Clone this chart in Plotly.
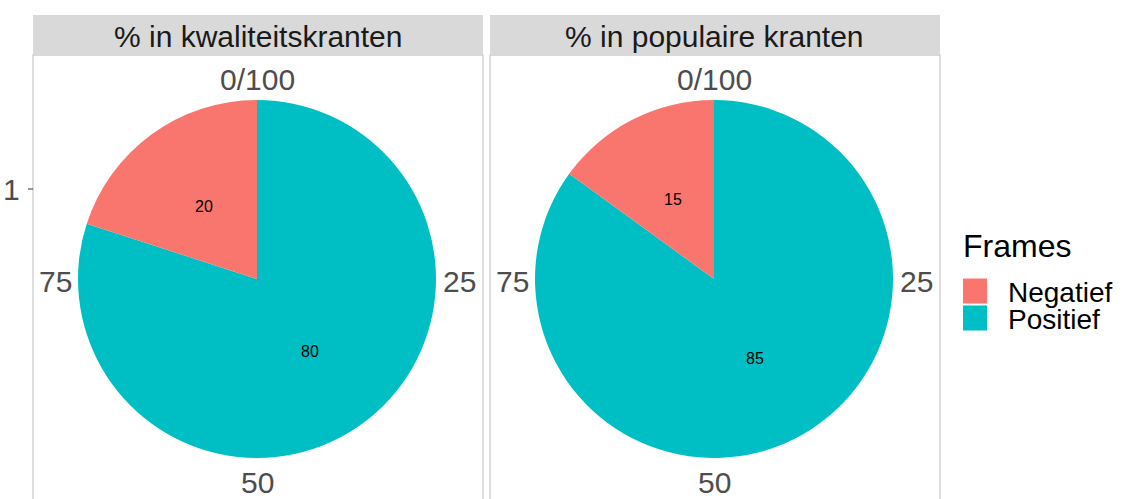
import math
import plotly.graph_objects as go

frames = ["Negatief", "Positief"]
kwaliteit = [20, 80]
populair = [15, 85]
panel_titles = ["% in kwaliteitskranten", "% in populaire kranten"]
theta_ticks = ["0/100", "25", "50", "75"]
colors = ["#F8766D", "#00BFC4"]

W, H = 1123, 499

def px_x(v):
    return v / W

def px_y(v):
    return 1 - v / H

fig = go.Figure()

panels = [(33, 483, 257), (490, 940, 714)]
r = 179
cy = 279

for (x0, x1, cx), vals, title in zip(panels, [kwaliteit, populair], panel_titles):
    # panel border
    fig.add_shape(type="rect", xref="paper", yref="paper", x0=px_x(x0), x1=px_x(x1),
                  y0=px_y(530), y1=px_y(55), line=dict(color="#CCCCCC", width=1.3), layer="below")
    # strip
    fig.add_shape(type="rect", xref="paper", yref="paper", x0=px_x(x0), x1=px_x(x1),
                  y0=px_y(55), y1=px_y(15), fillcolor="#D9D9D9", line=dict(width=0))
    fig.add_annotation(x=px_x((x0 + x1) / 2), y=px_y(37), text=title,
                       font=dict(size=30, color="#1A1A1A"))

    # ggplot stacks the last level first, going clockwise from 12 o'clock
    fig.add_trace(go.Pie(
        labels=frames[::-1], values=vals[::-1], sort=False, direction="clockwise", rotation=0,
        marker=dict(colors=colors[::-1], line=dict(width=0)),
        textinfo="none",
        domain=dict(x=[px_x(cx - r), px_x(cx + r)], y=[px_y(cy + r), px_y(cy - r)]),
        showlegend=False, hoverinfo="label+value",
    ))

    # slice labels, placed like ggplot geom_text in coord_polar (mid radius)
    total = sum(vals)
    start = 0
    for v in vals:
        mid = (start + v / 2) / total * 2 * math.pi
        start += v
        lx = cx - 0.5 * r * math.sin(mid)
        ly = cy - 0.5 * r * math.cos(mid)
        fig.add_annotation(x=px_x(lx), y=px_y(ly), text=str(v), font=dict(size=16, color="black"))

    # theta labels
    pos = [(cx, 79), (cx + 202, 281), (cx, 482), (cx - 202, 281)]
    for t, (tx, ty) in zip(theta_ticks, pos):
        fig.add_annotation(x=px_x(tx), y=px_y(ty), text=t, font=dict(size=30, color="#4D4D4D"))

# radial axis tick "1"
fig.add_annotation(x=px_x(22), y=px_y(190), text="1", xanchor="right",
                   font=dict(size=30, color="#4D4D4D"))
fig.add_shape(type="line", xref="paper", yref="paper", x0=px_x(28), x1=px_x(33),
              y0=px_y(189), y1=px_y(189), line=dict(color="#333333", width=1))

# legend
fig.add_annotation(x=px_x(961), y=px_y(246), text="Frames", xanchor="left",
                   font=dict(size=32, color="black"))
for i, (name, col) in enumerate(zip(frames, colors)):
    yc = 291 + i * 27
    fig.add_shape(type="rect", xref="paper", yref="paper", x0=px_x(963), x1=px_x(987),
                  y0=px_y(yc + 12.5), y1=px_y(yc - 12.5), fillcolor=col, line=dict(width=0))
    fig.add_annotation(x=px_x(1006), y=px_y(yc + 1), text=name, xanchor="left",
                       font=dict(size=28, color="black"))

fig.update_annotations(xref="paper", yref="paper", showarrow=False, yanchor="middle")
fig.for_each_annotation(lambda a: a.update(xanchor="center") if a.xanchor is None else None)

fig.update_layout(
    width=W, height=H,
    margin=dict(l=0, r=0, t=0, b=0),
    paper_bgcolor="white", plot_bgcolor="white",
    font=dict(family="Liberation Sans, Arial, sans-serif"),
)

fig.write_html("out.html", config={"displayModeBar": False},
               post_script="document.body.style.margin='0px';")
